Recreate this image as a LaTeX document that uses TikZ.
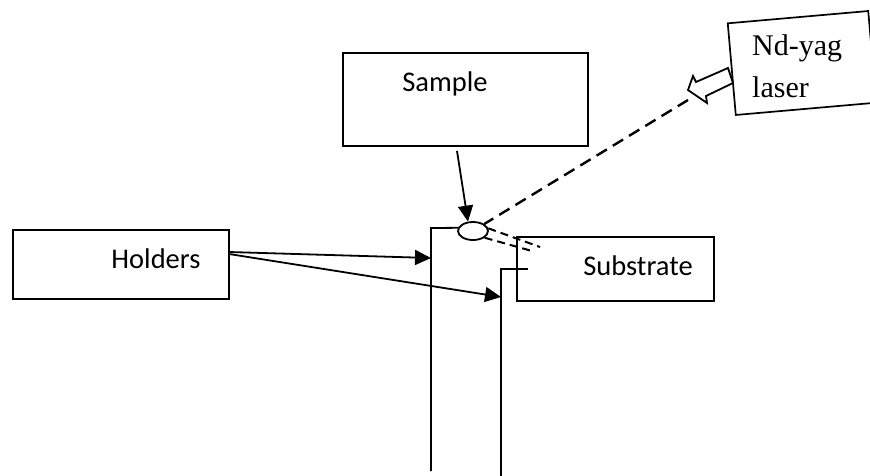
\documentclass[tikz,border=0pt]{standalone}
\usepackage{fontspec}
\newfontfamily\calib{Carlito}
\newfontfamily\tnr{Liberation Serif}
\usetikzlibrary{arrows.meta,shapes.geometric}
\begin{document}
\begin{tikzpicture}[x=1pt,y=-1pt,
  box/.style={draw,line width=1.7pt,inner sep=0pt,rectangle},
  lbl/.style={font=\calib\fontsize{28.5}{34}\selectfont,anchor=base,inner sep=0pt},
  serlbl/.style={font=\tnr\fontsize{30}{36}\selectfont,anchor=base west,inner sep=0pt},
  rod/.style={line width=1.8pt},
  arr/.style={line width=1.8pt,-{Triangle[length=16pt,width=15pt]}},
  beam/.style={line width=2.4pt,dash pattern=on 12pt off 7pt},
  scatter/.style={line width=2pt,dash pattern=on 8pt off 5pt},
  ]
\useasboundingbox (0,0) rectangle (870,475);
% boxes
\node[box,minimum width=245pt,minimum height=93pt] (sample) at (465.5,99.5) {};
\node[lbl] (sampletxt) at (445,91) {Sample};
\node[box,minimum width=216pt,minimum height=69pt] (holders) at (121,264.5) {};
\node[lbl] (holderstxt) at (156,268) {Holders};
\node[box,minimum width=197pt,minimum height=64pt] (substrate) at (615.5,269) {};
\node[lbl] (substratetxt) at (638,275) {Substrate};
\node[box,rotate=5,minimum width=141pt,minimum height=92pt] (laser) at (802,63) {};
\node[serlbl] (lasertxta) at (752,55) {Nd-yag};
\node[serlbl] (lasertxtb) at (752,97) {laser};
% spot
\node[draw,ellipse,line width=1.8pt,minimum width=30pt,minimum height=18pt,inner sep=0pt] (spot) at (473,231) {};
% rods
\coordinate (rodLtop) at (431,228);
\coordinate (rodLbot) at (431,471);
\coordinate (rodRtip) at (528,269);
\coordinate (rodRtop) at (501,269);
\coordinate (rodRbot) at (501,476);
\draw[rod] (spot.168) -- (rodLtop) -- (rodLbot);
\draw[rod] (rodRtip) -- (rodRtop) -- (rodRbot);
% arrows
\coordinate (h1) at (229,252);
\coordinate (h2) at (229,254);
\coordinate (hitL) at (431,258);
\coordinate (hitR) at (501,297);
\draw[arr] (h1) -- (hitL);
\draw[arr] (h2) -- (hitR);
\coordinate (sampstart) at (457,151);
\draw[arr] (sampstart) -- (spot.118);
% laser arrow
\draw[line width=1.8pt,fill=white,line join=miter] (688,90) -- (693,76) -- (696,82) -- (728,68) -- (733,83) -- (706,96) -- (707,103) -- cycle;
\coordinate (beamstart) at (688,100);
\draw[beam] (beamstart) -- (spot.north east);
% scattered
\coordinate (sc1) at (540,247);
\coordinate (sc2) at (532,251);
\draw[scatter] (spot.10) -- (sc1);
\draw[scatter] (spot.-30) -- (sc2);
\end{tikzpicture}
\end{document}
